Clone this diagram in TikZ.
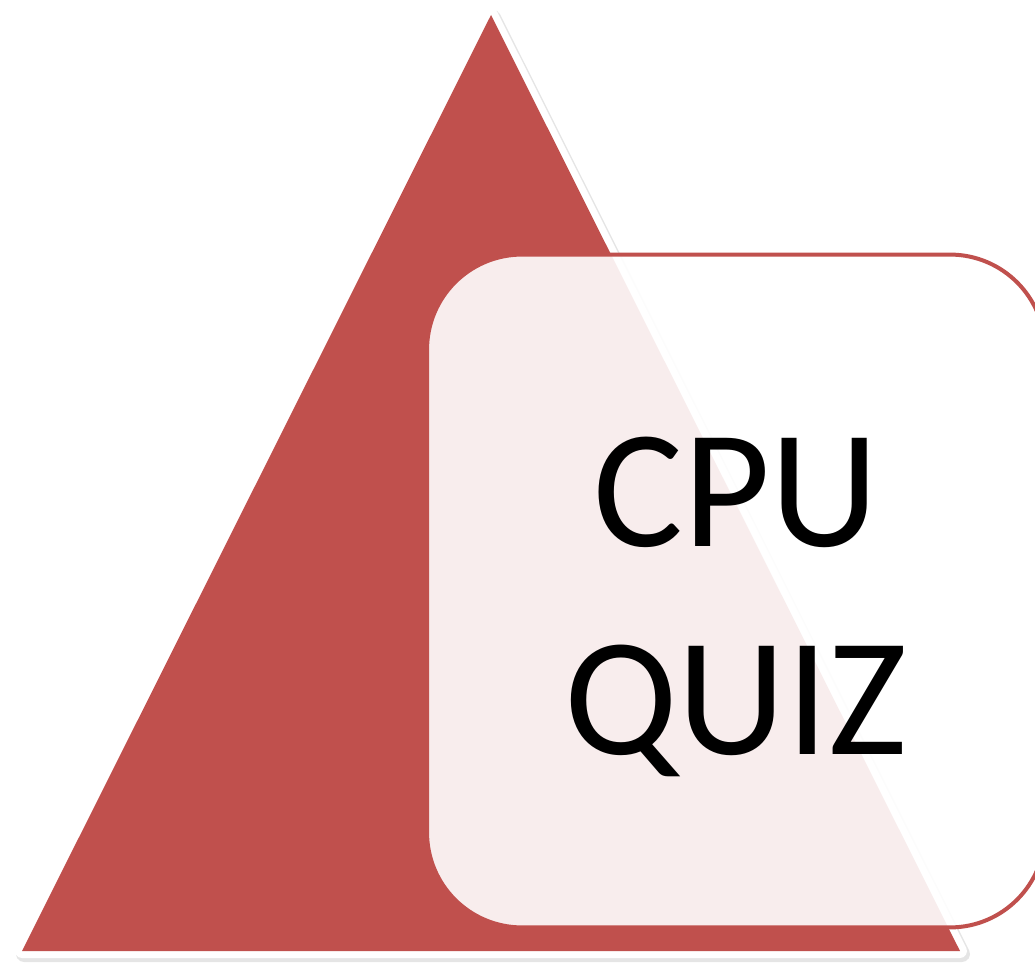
\documentclass[tikz,border=0pt]{standalone}
\usepackage{fontspec}
\setmainfont{Carlito}
\definecolor{cpured}{HTML}{C0504D}

\begin{document}
\begin{tikzpicture}
[
x=0.02cm, y=-0.02cm,
rim/.style={draw=white, line width=0.28cm, line join=round},
shade/.style={draw=black!10, line width=0.32cm, line join=round},
pyramid/.style={fill=cpured},
quizbox/.style={draw=cpured, line width=0.08cm, fill=white, fill opacity=0.9,
  rounded corners=1.9cm, minimum width=12.36cm, minimum height=13.46cm},
quizlabel/.style={align=center, font=\fontsize{96}{118}\selectfont}
]

\useasboundingbox (0,0) rectangle (1035,963);
\clip (0,0) rectangle (1035,963);

% corners of the pyramid
\coordinate (apex) at (491,15);
\coordinate (baseleft) at (22,951);
\coordinate (baseright) at (960,951);

\draw[shade] ([xshift=0.04cm,yshift=-0.06cm]apex) -- ([xshift=0.04cm,yshift=-0.06cm]baseleft)
  -- ([xshift=0.04cm,yshift=-0.06cm]baseright) -- cycle;
\draw[rim] (apex) -- (baseleft) -- (baseright) -- cycle;
\fill[pyramid] (apex) -- (baseleft) -- (baseright) -- cycle;

\node (quiz) [quizbox] at (736,591) {};
\node (quiztext) [quizlabel] at ([yshift=-0.32cm]quiz.center) {CPU\\QUIZ};
\end{tikzpicture}
\end{document}
